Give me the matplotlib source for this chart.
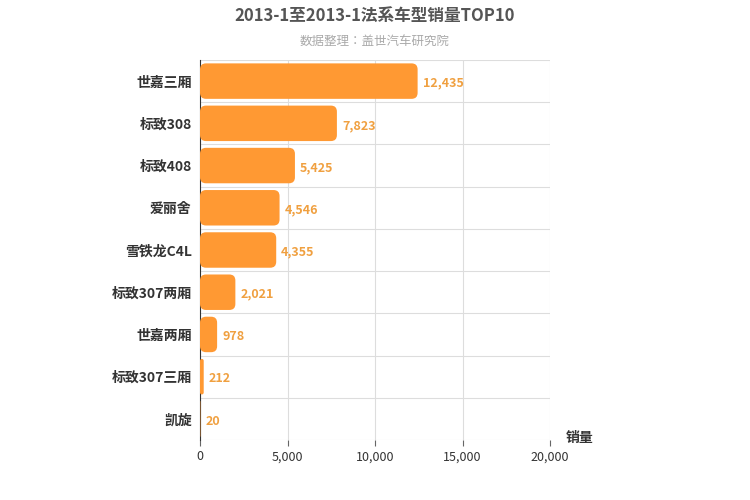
import matplotlib.pyplot as plt
from matplotlib import font_manager
from matplotlib.patches import FancyBboxPatch

nomes = {f.name for f in font_manager.fontManager.ttflist}
cjk = [n for n in ['Noto Sans CJK SC', 'Noto Sans CJK JP', 'Noto Sans CJK TC', 'Noto Sans CJK KR'] if n in nomes]
plt.rcParams['font.family'] = cjk + ['DejaVu Sans']

車型 = ['世嘉三厢', '标致308', '标致408', '爱丽舍', '雪铁龙C4L', '标致307两厢', '世嘉两厢', '标致307三厢', '凯旋']
销量 = [12435, 7823, 5425, 4546, 4355, 2021, 978, 212, 20]
x_ticks = [0, 5000, 10000, 15000, 20000]

fig = plt.figure(figsize=(7.5, 5), dpi=100)
ax = fig.add_axes([200 / 750, 1 - 440 / 500, 350 / 750, 380 / 500])

n = len(車型)
ax.set_xlim(0, 20000)
ax.set_ylim(n - 0.5, -0.5)

ux = 20000 / 350
uy = n / 380
altura = 0.84
for i, v in enumerate(销量):
    caixa = FancyBboxPatch((0, i - altura / 2), v, altura,
                           boxstyle=f'round,pad=0,rounding_size={min(6 * ux, v / 2)}',
                           mutation_aspect=uy / ux,
                           fc='#ff9933', ec='none', zorder=3)
    ax.add_patch(caixa)
    ax.text(v + 5 * ux, i + 0.05, f'{v:,}', va='center', ha='left',
            color='#f0a040', fontsize=9, fontweight='bold', zorder=4)

for x in x_ticks:
    ax.axvline(x, color='#dddddd', lw=0.8, zorder=1)
for k in range(n + 1):
    ax.axhline(k - 0.5, color='#dddddd', lw=0.8, zorder=1)

ax.set_yticks(range(n))
ax.set_yticklabels(車型, fontsize=10, fontweight='bold', color='#333333')
ax.set_xticks(x_ticks)
ax.set_xticklabels([f'{x:,}' for x in x_ticks], fontsize=9, color='#333333')
ax.tick_params(axis='y', length=0, pad=6)
ax.tick_params(axis='x', length=4, color='#666666')
for s in ['top', 'right', 'bottom']:
    ax.spines[s].set_visible(False)
ax.spines['left'].set_color('#333333')

fig.text(0.5, 1 - 16 / 500, '2013-1至2013-1法系车型销量TOP10', ha='center', va='center',
         fontsize=12, fontweight='bold', color='#555555')
fig.text(0.5, 1 - 41 / 500, '数据整理：盖世汽车研究院', ha='center', va='center',
         fontsize=9, color='#aaaaaa')
fig.text(580 / 750, 1 - 438 / 500, '销量', ha='center', va='center',
         fontsize=10, fontweight='bold', color='#333333')

fig.savefig('out.png', dpi=100)
